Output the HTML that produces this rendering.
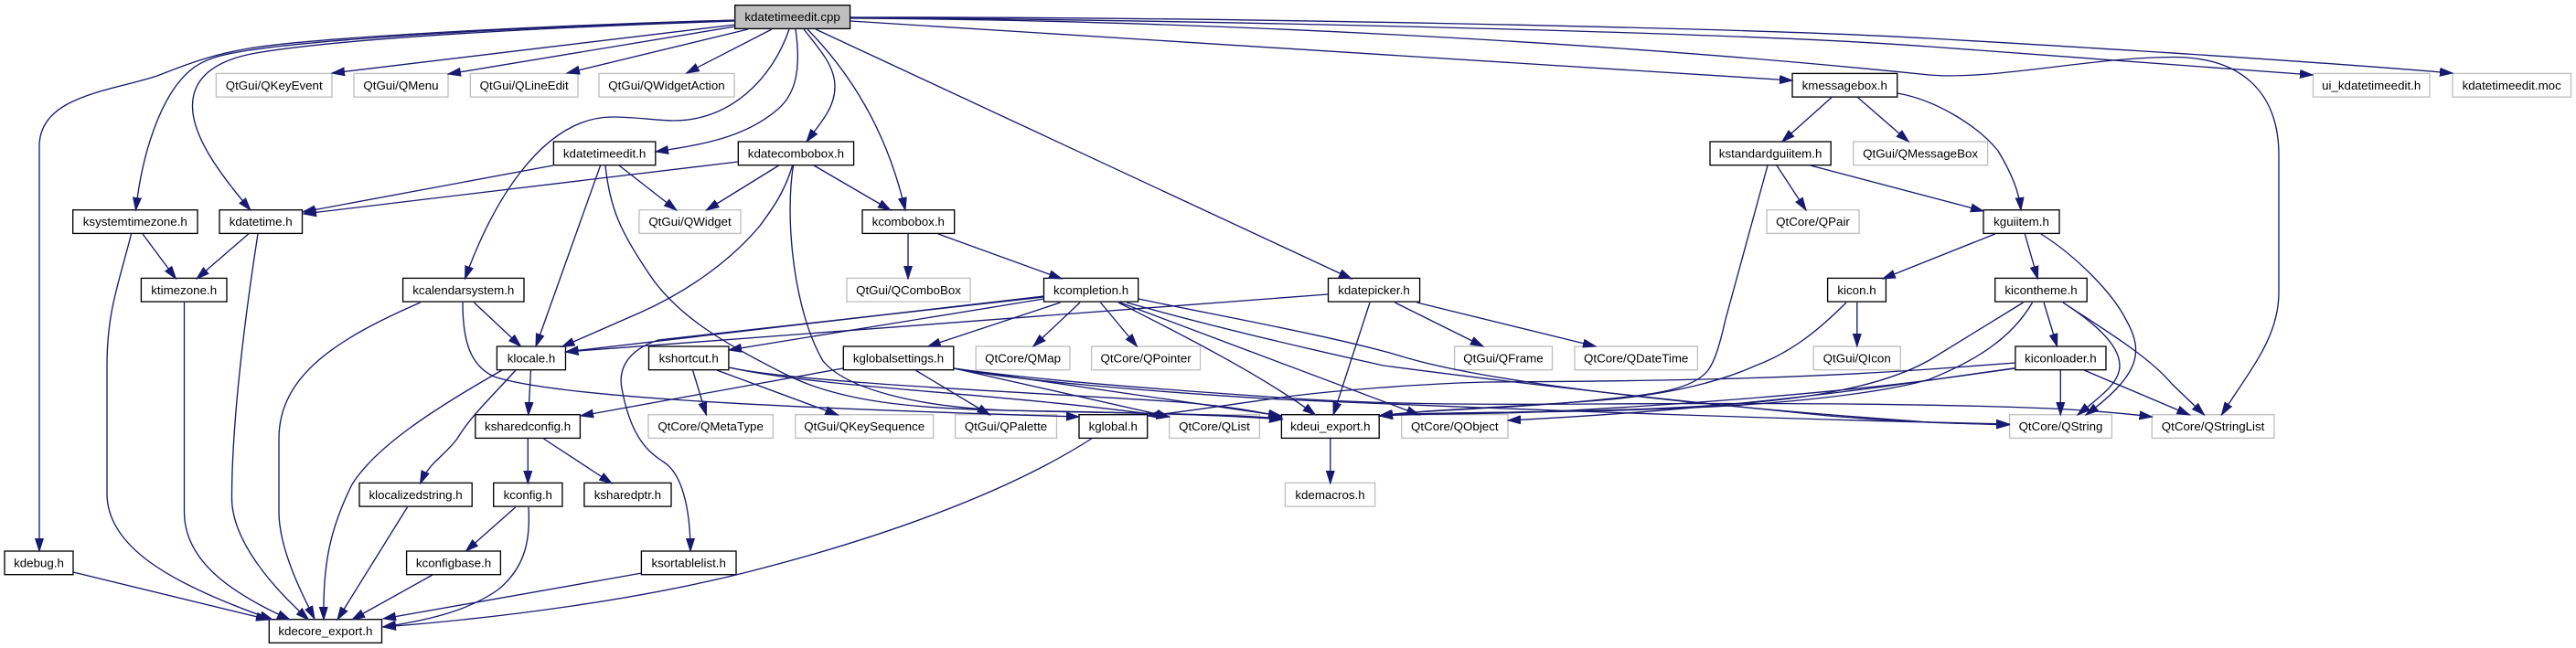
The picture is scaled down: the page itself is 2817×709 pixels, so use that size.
<!DOCTYPE html>
<html><head><meta charset="utf-8"><title>kdatetimeedit.cpp</title>
<style>
html,body{margin:0;padding:0;background:#fff;width:2817px;height:709px;overflow:hidden}
svg{display:block}
text{font-family:"Liberation Sans",sans-serif;font-size:13.33px;text-anchor:middle;fill:#000}
rect{fill:#fff;stroke:#000;stroke-width:1.33}
rect.g{stroke:#bfbfbf}
rect.r{fill:#bfbfbf}
path{fill:none;stroke:#191970;stroke-width:1.33;marker-end:url(#a)}
#a path{fill:#191970;stroke:#191970;stroke-width:1;marker-end:none}
</style></head><body>
<svg xmlns="http://www.w3.org/2000/svg" width="2817" height="709" viewBox="0 0 2817 709">
<defs><marker id="a" markerUnits="userSpaceOnUse" markerWidth="16" markerHeight="12" refX="14" refY="5" orient="auto"><path d="M0,0.5L14,5L0,9.5z"/></marker></defs>
<g>
<rect class="r" x="803.7" y="5.7" width="125.9" height="25.7"/>
<rect class="g" x="236.4" y="80.4" width="126.6" height="25.7"/>
<rect class="g" x="387" y="80.4" width="103" height="25.7"/>
<rect class="g" x="514.4" y="80.4" width="117.6" height="25.7"/>
<rect class="g" x="655" y="80.4" width="148" height="25.7"/>
<rect x="1960" y="80.4" width="114.7" height="25.7"/>
<rect class="g" x="2529.5" y="80.4" width="127.5" height="25.7"/>
<rect class="g" x="2682" y="80.4" width="129.5" height="25.7"/>
<rect x="605.4" y="155" width="111.4" height="25.7"/>
<rect x="807.3" y="155" width="126.3" height="25.7"/>
<rect x="1870" y="155" width="132.2" height="25.7"/>
<rect class="g" x="2026.7" y="155" width="146.9" height="25.7"/>
<rect x="79.7" y="229.7" width="136.3" height="25.7"/>
<rect x="240" y="229.7" width="90.5" height="25.7"/>
<rect class="g" x="699" y="229.7" width="111" height="25.7"/>
<rect x="943" y="229.7" width="100.7" height="25.7"/>
<rect class="g" x="1932" y="229.7" width="101" height="25.7"/>
<rect x="2169" y="229.7" width="83" height="25.7"/>
<rect x="154.4" y="304.4" width="93.6" height="25.7"/>
<rect x="440.6" y="304.4" width="132.4" height="25.7"/>
<rect class="g" x="926" y="304.4" width="135" height="25.7"/>
<rect x="1141.5" y="304.4" width="103.2" height="25.7"/>
<rect x="1452.5" y="304.4" width="100.1" height="25.7"/>
<rect x="1998.6" y="304.4" width="63.8" height="25.7"/>
<rect x="2181.7" y="304.4" width="100.5" height="25.7"/>
<rect x="543.4" y="379" width="75.1" height="25.7"/>
<rect x="709.5" y="379" width="87.4" height="25.7"/>
<rect x="922.3" y="379" width="120.5" height="25.7"/>
<rect class="g" x="1067.2" y="379" width="102.8" height="25.7"/>
<rect class="g" x="1193.6" y="379" width="119" height="25.7"/>
<rect class="g" x="1590.6" y="379" width="106.9" height="25.7"/>
<rect class="g" x="1722" y="379" width="134.4" height="25.7"/>
<rect class="g" x="1983.2" y="379" width="95.1" height="25.7"/>
<rect x="2203.9" y="379" width="99.1" height="25.7"/>
<rect x="519.8" y="453.7" width="114.6" height="25.7"/>
<rect class="g" x="709" y="453.7" width="136.3" height="25.7"/>
<rect class="g" x="869.8" y="453.7" width="150.8" height="25.7"/>
<rect class="g" x="1044.6" y="453.7" width="110.9" height="25.7"/>
<rect x="1180" y="453.7" width="74.7" height="25.7"/>
<rect class="g" x="1278.7" y="453.7" width="98.7" height="25.7"/>
<rect x="1401.4" y="453.7" width="106.8" height="25.7"/>
<rect class="g" x="1532.7" y="453.7" width="116.3" height="25.7"/>
<rect class="g" x="2197.6" y="453.7" width="111.8" height="25.7"/>
<rect class="g" x="2353.3" y="453.7" width="133.6" height="25.7"/>
<rect x="393" y="528.4" width="123.2" height="25.7"/>
<rect x="539.7" y="528.4" width="75.2" height="25.7"/>
<rect x="638.9" y="528.4" width="95.1" height="25.7"/>
<rect class="g" x="1405.4" y="528.4" width="98.3" height="25.7"/>
<rect x="5" y="603" width="75" height="25.7"/>
<rect x="444.6" y="603" width="102.8" height="25.7"/>
<rect x="701.4" y="603" width="103.6" height="25.7"/>
<rect x="294.3" y="677.7" width="123.2" height="25.7"/>
</g>
<g>
<text x="866.6" y="23.2">kdatetimeedit.cpp</text>
<text x="299.7" y="97.9">QtGui/QKeyEvent</text>
<text x="438.5" y="97.9">QtGui/QMenu</text>
<text x="573.2" y="97.9">QtGui/QLineEdit</text>
<text x="729" y="97.9">QtGui/QWidgetAction</text>
<text x="2017.3" y="97.9">kmessagebox.h</text>
<text x="2593.2" y="97.9">ui_kdatetimeedit.h</text>
<text x="2746.7" y="97.9">kdatetimeedit.moc</text>
<text x="661.1" y="172.5">kdatetimeedit.h</text>
<text x="870.4" y="172.5">kdatecombobox.h</text>
<text x="1936.1" y="172.5">kstandardguiitem.h</text>
<text x="2100.1" y="172.5">QtGui/QMessageBox</text>
<text x="147.8" y="247.2">ksystemtimezone.h</text>
<text x="285.2" y="247.2">kdatetime.h</text>
<text x="754.5" y="247.2">QtGui/QWidget</text>
<text x="993.3" y="247.2">kcombobox.h</text>
<text x="1982.5" y="247.2">QtCore/QPair</text>
<text x="2210.5" y="247.2">kguiitem.h</text>
<text x="201.2" y="321.9">ktimezone.h</text>
<text x="506.8" y="321.9">kcalendarsystem.h</text>
<text x="993.5" y="321.9">QtGui/QComboBox</text>
<text x="1193.1" y="321.9">kcompletion.h</text>
<text x="1502.5" y="321.9">kdatepicker.h</text>
<text x="2030.5" y="321.9">kicon.h</text>
<text x="2232" y="321.9">kicontheme.h</text>
<text x="581" y="396.5">klocale.h</text>
<text x="753.2" y="396.5">kshortcut.h</text>
<text x="982.5" y="396.5">kglobalsettings.h</text>
<text x="1118.6" y="396.5">QtCore/QMap</text>
<text x="1253.1" y="396.5">QtCore/QPointer</text>
<text x="1644" y="396.5">QtGui/QFrame</text>
<text x="1789.2" y="396.5">QtCore/QDateTime</text>
<text x="2030.7" y="396.5">QtGui/QIcon</text>
<text x="2253.4" y="396.5">kiconloader.h</text>
<text x="577.1" y="471.2">ksharedconfig.h</text>
<text x="777.1" y="471.2">QtCore/QMetaType</text>
<text x="945.2" y="471.2">QtGui/QKeySequence</text>
<text x="1100" y="471.2">QtGui/QPalette</text>
<text x="1217.3" y="471.2">kglobal.h</text>
<text x="1328" y="471.2">QtCore/QList</text>
<text x="1454.8" y="471.2">kdeui_export.h</text>
<text x="1590.8" y="471.2">QtCore/QObject</text>
<text x="2253.5" y="471.2">QtCore/QString</text>
<text x="2420.1" y="471.2">QtCore/QStringList</text>
<text x="454.6" y="545.9">klocalizedstring.h</text>
<text x="577.3" y="545.9">kconfig.h</text>
<text x="686.4" y="545.9">ksharedptr.h</text>
<text x="1454.5" y="545.9">kdemacros.h</text>
<text x="42.5" y="620.5">kdebug.h</text>
<text x="496" y="620.5">kconfigbase.h</text>
<text x="753.2" y="620.5">ksortablelist.h</text>
<text x="355.9" y="695.2">kdecore_export.h</text>
</g>
<g>
<path d="M804,22C620,27 350,40 272,53C230,60 200,72 172,83C120,100 43,105 43,160L43,603"/>
<path d="M804,22C620,28 370,40 272,55C240,60 222,65 208,77C175,105 155,170 148.5,230"/>
<path d="M804,23C620,29 380,41 280,58C235,66 210,85 210.5,117C211,150 240,190 274,230"/>
<path d="M804,27L363,80"/>
<path d="M804,29L490,81"/>
<path d="M818,32L620,80"/>
<path d="M844,32L750.7,80"/>
<path d="M863,32C845,85 800,132 736,132C720,132 695,128 670,128C590,128 535,230 508.5,305"/>
<path d="M870,32C877,80 868,105 850,120C815,150 770,158 717,166"/>
<path d="M879,32C897,55 913,72 913,95C913,118 897,135 882,155"/>
<path d="M883,32C945,95 975,165 990,230"/>
<path d="M892,32L1478,305"/>
<path d="M930,23L1960,88"/>
<path d="M930,19C1300,22 1900,35 2110,51L2529,82"/>
<path d="M930,19C1300,18 1900,30 2110,42C2300,53 2500,65 2682,80"/>
<path d="M930,20C1300,22 1750,45 2110,82C2180,88 2290,62 2379,62.5C2450,63 2492,100 2492,170L2492,320C2492,370 2460,405 2429.5,454"/>
<path d="M605,181L331,232"/>
<path d="M677,181L739.8,230"/>
<path d="M656.6,181L586,379"/>
<path d="M662,181C667,230 680,255 710,300C740,345 790,375 860,410C920,440 1000,447 1100,449C1200,451 1330,453 1402,459"/>
<path d="M807,177L332,234"/>
<path d="M851.7,181L772.4,230"/>
<path d="M890,181L974,230"/>
<path d="M866.6,181C858,210 845,228 831,247C795,290 745,322 700,342L614.5,379.5"/>
<path d="M867.5,181C858,240 868,340 900,395C925,425 1000,445 1100,449C1200,452 1330,452 1402,458"/>
<path d="M143.5,256C130,310 117,340 117,400L117,540C117,600 190,640 298,678"/>
<path d="M201.5,331L201.5,560C201.5,615 255,650 317,678"/>
<path d="M282,256C272,320 253.5,450 253.5,545C253.5,590 295,640 337.5,678"/>
<path d="M459.6,331C370,370 305,410 305,480L305,560C305,600 330,650 344,677"/>
<path d="M549,405C470,450 410,490 385,530C360,580 353,620 354,678"/>
<path d="M446,554L369,678"/>
<path d="M473,629L385,678"/>
<path d="M578,555C580,590 575,620 545,645C510,670 460,680 418.5,686"/>
<path d="M702,627L419,677"/>
<path d="M1193.6,480C1100,540 960,590 813,627C700,655 560,675 419,686"/>
<path d="M80,626L294,678"/>
<path d="M156,256L192.4,305"/>
<path d="M271.7,256L215,305"/>
<path d="M518.4,331L569.6,379"/>
<path d="M506,331C506,375 515,400 540,412C600,432 800,445 1180,456"/>
<path d="M922,403L635,455"/>
<path d="M1452.5,322L618.5,385"/>
<path d="M1141.5,324L618.5,385"/>
<path d="M1141.5,327L797,383"/>
<path d="M1159.6,331L1014.7,379"/>
<path d="M1181,331L1130,379"/>
<path d="M1203.5,331L1243.4,379"/>
<path d="M1223,331C1280,360 1380,410 1438.5,454"/>
<path d="M1225,331L1552,454"/>
<path d="M1232,331C1300,350 1400,375 1513,400C1700,425 1900,445 2000,455C2100,463 2150,464 2197,464"/>
<path d="M1245,327C1330,345 1470,370 1540,392C1620,415 1800,440 2110,462L2197,465"/>
<path d="M1141.5,325L720,372C680,385 677,410 680,425C690,480 710,495 725,505C750,520 755,570 755,603"/>
<path d="M1498,331L1458,454"/>
<path d="M1525.4,331L1622,379"/>
<path d="M1549.4,331L1745,379"/>
<path d="M757.5,405L772.4,454"/>
<path d="M783.8,405L916.4,454"/>
<path d="M797,402C900,425 1100,430 1278.7,456"/>
<path d="M797,402C880,420 1150,430 1290,440C1340,444 1375,450 1401.4,456"/>
<path d="M1001,405L1082.6,454"/>
<path d="M1043,403L1278.7,456"/>
<path d="M1043,403L1401,455"/>
<path d="M1043,403C1100,415 1250,428 1400,437C1700,450 2000,460 2197,464"/>
<path d="M1043,403C1150,418 1300,428 1400,435C1500,442 1600,443 1750,442C1900,441 2100,441 2243,447C2285,449 2320,452 2353.5,456"/>
<path d="M1933,181L1886.8,350C1880,380 1875,395 1868,405C1850,428 1800,432 1762,436C1650,448 1570,447 1508,455"/>
<path d="M2030.8,331L2030.8,379"/>
<path d="M2019,331C1990,360 1960,385 1920,400C1880,418 1830,430 1762,437C1670,445 1570,447 1509,455"/>
<path d="M2253.3,405L2253.3,454"/>
<path d="M2279,405L2394.5,454"/>
<path d="M2204,402.7L2110,416C2000,430 1850,442 1700,450C1620,454 1560,452 1509,455"/>
<path d="M2204,397L2110,404C1950,415 1800,417 1626,418C1550,420 1450,428 1400,435C1350,442 1300,450 1255,455"/>
<path d="M2204,403L2110,416C2000,432 1850,450 1649,460"/>
<path d="M2235,331L2249.6,379"/>
<path d="M2256,331C2285,350 2318,375 2318,400C2318,420 2295,435 2272,454"/>
<path d="M2256,331C2300,360 2350,390 2375,420L2410.5,454"/>
<path d="M2212.5,331L2110,394C2050,428 1950,440 1850,445C1700,453 1570,450 1509,455"/>
<path d="M2222.5,331C2200,370 2160,395 2110,415C2060,430 1950,442 1850,446C1700,453 1570,450 1509,455"/>
<path d="M2181.7,256L2058.8,305"/>
<path d="M2214.3,256L2228.4,305"/>
<path d="M2232,256C2270,280 2310,320 2325,350C2345,385 2340,410 2281,454"/>
<path d="M1943,181L1975,230"/>
<path d="M1979.6,181L2169,231"/>
<path d="M2003.6,106L1948.8,155"/>
<path d="M2030.8,106L2087.3,155"/>
<path d="M2075,102C2120,110 2165,140 2185,165C2200,190 2208,210 2210,230"/>
<path d="M993,256L993,305"/>
<path d="M1026,256L1161,305"/>
<path d="M580.5,405L577.8,454"/>
<path d="M564,405C535,437 515,455 500,480C485,500 470,505 459.6,529"/>
<path d="M577.3,480L577.3,529"/>
<path d="M594.5,480L669.2,529"/>
<path d="M563.7,555L509.4,603"/>
<path d="M1454.8,480L1454.8,529"/>
</g>
</svg>
</body></html>
